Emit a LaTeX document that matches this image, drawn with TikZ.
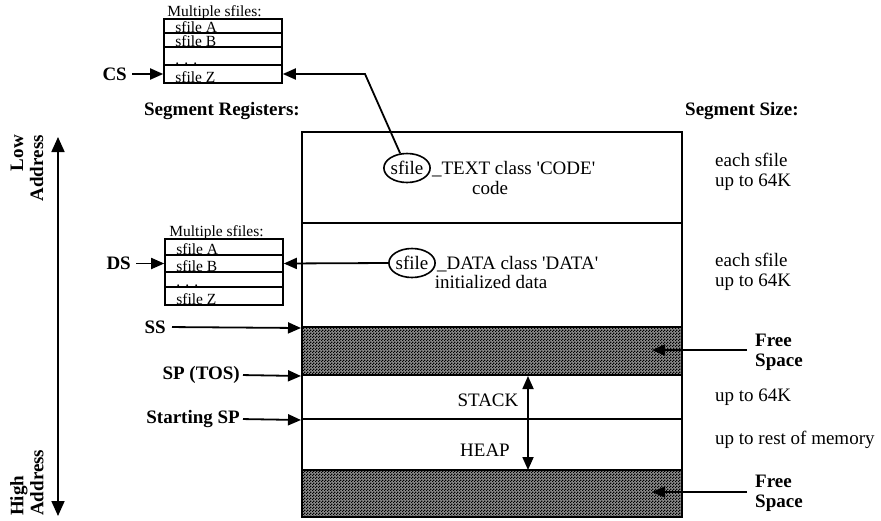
\documentclass[tikz,border=0pt]{standalone}
\usepackage{fontspec}
\setmainfont{Liberation Serif}
\usetikzlibrary{arrows.meta,patterns,shapes.geometric}
\pgfdeclarepatternformonly{checker}{\pgfpointorigin}{\pgfpoint{3pt}{3pt}}{\pgfpoint{3pt}{3pt}}{%
  \pgfpathrectangle{\pgfpointorigin}{\pgfpoint{1.5pt}{1.5pt}}%
  \pgfpathrectangle{\pgfpoint{1.5pt}{1.5pt}}{\pgfpoint{1.5pt}{1.5pt}}%
  \pgfusepath{fill}}
\tikzset{
  big/.style={font=\fontsize{19}{20}\selectfont, inner sep=0pt},
  bigb/.style={font=\fontsize{19}{20}\selectfont\bfseries, inner sep=0pt},
  small/.style={font=\fontsize{15.5}{16}\selectfont, inner sep=0pt},
  seg/.style={draw, rectangle, line width=2pt, minimum width=380pt, inner sep=0pt},
  freeseg/.style={seg, preaction={fill=black!45}, pattern=checker},
  rowbox/.style={draw, rectangle, line width=1.6pt, minimum width=118pt, inner sep=0pt},
  arr/.style={line width=1.8pt, -{Triangle[length=13pt,width=11pt]}},
  ell/.style={ellipse, draw, line width=1.6pt, minimum width=44pt, minimum height=29pt, inner sep=0pt, font=\fontsize{19}{20}\selectfont}
}
\begin{document}
\begin{tikzpicture}[x=1pt,y=-1pt]
\useasboundingbox (0,0) rectangle (881,520);

% main memory column
\node[seg, minimum height=91pt] (code) at (492,177.5) {};
\node[seg, minimum height=104pt] (data) at (492,275) {};
\node[freeseg, minimum height=48pt] (free1) at (492,351) {};
\node[seg, minimum height=44pt] (stack) at (492,397) {};
\node[seg, minimum height=51pt] (heap) at (492,444.5) {};
\node[freeseg, minimum height=47pt] (free2) at (492,493.5) {};

% code segment text
\node[ell] (e1) at (407,168) {sfile};
\node[big, anchor=base west] (t1) at ([xshift=1pt]e1.east |- e1.base) {\_TEXT class \textquotesingle CODE\textquotesingle};
\node[big] (t1b) at (490,188) {code};
% data segment text
\node[ell] (e2) at (412,263) {sfile};
\node[big, anchor=base west] (t2) at ([xshift=1pt]e2.east |- e2.base) {\_DATA class \textquotesingle DATA\textquotesingle};
\node[big] (t2b) at (491,282) {initialized data};

% CS sfile box
\node[rowbox, minimum height=14pt] (csA) at (223,26) {};
\node[rowbox, minimum height=14pt] (csB) at (223,40) {};
\node[rowbox, minimum height=18pt] (csD) at (223,56) {};
\node[rowbox, minimum height=18pt] (csZ) at (223,74) {};
\node[small, anchor=base west] (csM) at ([xshift=4pt,yshift=2pt]csA.north west) {Multiple sfiles:};
\node[small, anchor=base west] (csAt) at ([xshift=12pt,yshift=1.5pt]csA.south west) {sfile A};
\node[small, anchor=base west] (csBt) at ([xshift=12pt,yshift=1pt]csB.south west) {sfile B};
\node[small, anchor=base west] (csDt) at ([xshift=12pt,yshift=1.5pt]csD.south west) {. . .};
\node[small, anchor=base west] (csZt) at ([xshift=12pt,yshift=1.5pt]csZ.south west) {sfile Z};

% DS sfile box
\node[rowbox, minimum height=16pt] (dsA) at (224,247) {};
\node[rowbox, minimum height=17pt] (dsB) at (224,263.5) {};
\node[rowbox, minimum height=15pt] (dsD) at (224,279.5) {};
\node[rowbox, minimum height=18pt] (dsZ) at (224,296) {};
\node[small, anchor=base west] (dsM) at ([xshift=5pt,yshift=2pt]dsA.north west) {Multiple sfiles:};
\node[small, anchor=base west] (dsAt) at ([xshift=12pt,yshift=1.5pt]dsA.south west) {sfile A};
\node[small, anchor=base west] (dsBt) at ([xshift=12pt,yshift=1.5pt]dsB.south west) {sfile B};
\node[small, anchor=base west] (dsDt) at ([xshift=12pt,yshift=1.5pt]dsD.south west) {. . .};
\node[small, anchor=base west] (dsZt) at ([xshift=12pt,yshift=1.5pt]dsZ.south west) {sfile Z};

% register labels
\node[bigb, anchor=east] (cs) at (127,74) {CS};
\node[bigb, anchor=east] (ds) at (131,263.5) {DS};
\node[bigb, anchor=east] (ss) at (166,327) {SS};
\node[bigb, anchor=east] (sp) at (240,375) {SP (TOS)};
\node[bigb, anchor=east] (ssp) at (240,419) {Starting SP};
\node[bigb] (segreg) at (222,111) {Segment Registers:};

\draw[arr, shorten <=5pt] (cs.east) -- (csZ.west);
\draw[arr, shorten <=5pt] (ds.east) -- (dsB.west);
\draw[arr, shorten <=6pt] (ss.east) -- (data.south west);
\draw[arr, shorten <=3pt] (sp.east) -- (free1.south west);
\draw[arr, shorten <=3pt] (ssp.east) -- (stack.south west);

% connectors from sfile ellipses
\coordinate (bend) at (365,74);
\draw[arr] (e1.115) -- (bend) -- (csZ.east);
\draw[arr] (e2.west) -- (dsB.east);

% stack / heap
\node[big] (stk) at (488,400) {STACK};
\node[big] (hp) at (485,450) {HEAP};
\coordinate (stkA) at (528,419);
\coordinate (stkB) at (528,376);
\coordinate (hpA) at (528,420);
\coordinate (hpB) at (528,470);
\draw[arr] (stkA) -- (stkB);
\draw[arr] (hpA) -- (hpB);

% right side
\node[bigb, anchor=west] (segsize) at (685,111) {Segment Size:};
\node[big, anchor=west, align=left] (sz1) at (715,172) {each sfile\\up to 64K};
\node[big, anchor=west, align=left] (sz2) at (715,272) {each sfile\\up to 64K};
\node[bigb, anchor=west, align=left] (fs1) at (755,352) {Free\\Space};
\node[big, anchor=west] (sz3) at (715,397) {up to 64K};
\node[big, anchor=west] (sz4) at (715,440) {up to rest of memory};
\node[bigb, anchor=west, align=left] (fs2) at (755,493) {Free\\Space};
\coordinate (f1a) at (747,350);
\coordinate (f1b) at (652,350);
\coordinate (f2a) at (747,492);
\coordinate (f2b) at (652,492);
\draw[arr] (f1a) -- (f1b);
\draw[arr] (f2a) -- (f2b);

% address arrow
\coordinate (lowA) at (58,137);
\coordinate (highA) at (58,516);
\draw[line width=1.8pt, {Triangle[length=15pt,width=13pt]}-{Triangle[length=15pt,width=13pt]}] (lowA) -- (highA);
\node[bigb, rotate=90, align=right, anchor=east] (lowtxt) at (27,135) {Low\\Address};
\node[bigb, rotate=90, align=left, anchor=west] (hightxt) at (27,516) {High\\Address};
\end{tikzpicture}
\end{document}
